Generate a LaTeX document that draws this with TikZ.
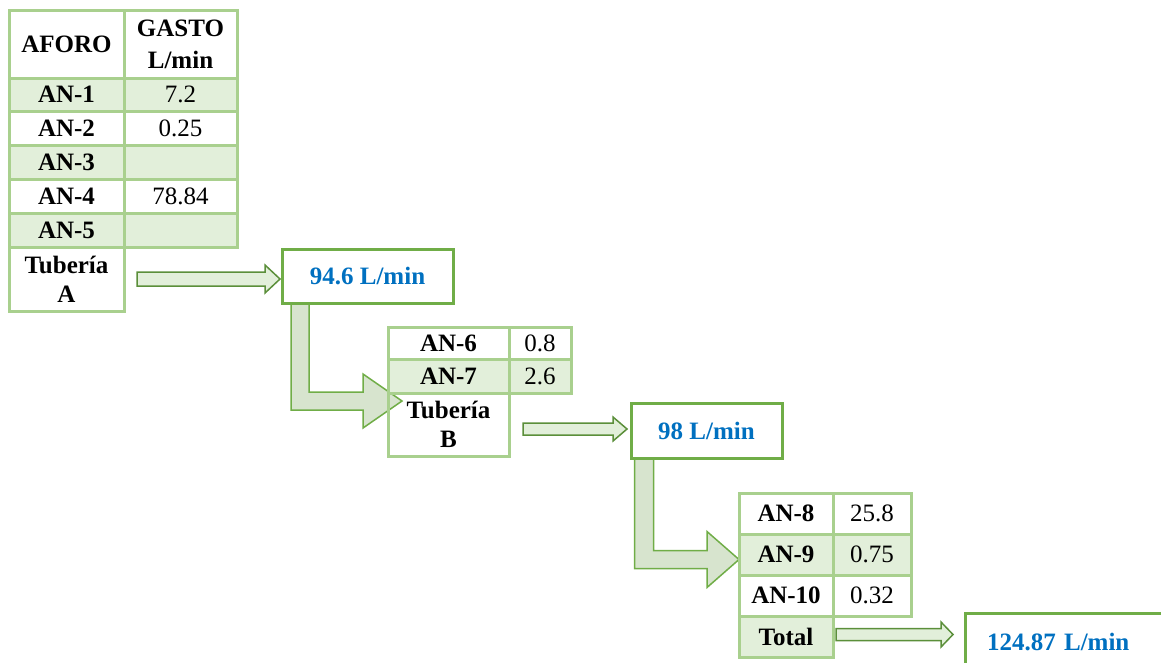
\documentclass[tikz,border=0pt]{standalone}
\usepackage{fontspec}
\setmainfont{Liberation Serif}
\usetikzlibrary{positioning,calc,backgrounds}

\definecolor{tblgreen}{HTML}{A9D08E}
\definecolor{rowgreen}{HTML}{E2EFDA}
\definecolor{boxgreen}{HTML}{70AD47}
\definecolor{darkgreen}{HTML}{5B8F3A}
\definecolor{bendfill}{HTML}{D7E4CE}
\definecolor{flowblue}{HTML}{0070C0}
\newcommand{\tabfont}{\fontsize{25}{29}\selectfont}

\begin{document}
\begin{tikzpicture}[x=1pt,y=-1pt]
			\tikzset{
				cell/.style={draw=tblgreen, line width=3pt, outer sep=0pt, inner sep=0pt,
						minimum height=34pt, font=\tabfont\bfseries},
				lbl/.style={cell, minimum width=115pt},
				val/.style={cell, minimum width=113pt, font=\tabfont},
				shd/.style={fill=rowgreen},
				resbox/.style={draw=boxgreen, line width=3pt, outer sep=0pt,
						font=\tabfont\bfseries, text=flowblue, anchor=north west},
				flow/.style={draw=darkgreen, fill=rowgreen, line width=1.5pt},
				elbow/.style={draw=boxgreen, fill=bendfill, line width=1.5pt},
			}
			\useasboundingbox (0,0) rectangle (1161,662);
			\clip (0,0) rectangle (1161,662);
			% first table
			\node[lbl, minimum height=68pt, anchor=north west] (a0) at (9,10) {AFORO};
			\node[val, minimum height=68pt, font=\tabfont\bfseries, align=center, right=0pt of a0] (g0) {GASTO\\[3pt]L/min};
			\node[lbl, shd, minimum height=33pt, below=0pt of a0] (a1) {AN-1};
			\node[val, shd, minimum height=33pt, right=0pt of a1] (g1) {7.2};
			\node[lbl, below=0pt of a1] (a2) {AN-2};
			\node[val, right=0pt of a2] (g2) {0.25};
			\node[lbl, shd, below=0pt of a2] (a3) {AN-3};
			\node[val, shd, right=0pt of a3] (g3) {};
			\node[lbl, below=0pt of a3] (a4) {AN-4};
			\node[val, right=0pt of a4] (g4) {78.84};
			\node[lbl, shd, below=0pt of a4] (a5) {AN-5};
			\node[val, shd, right=0pt of a5] (g5) {};
			\node[lbl, minimum height=64pt, align=center, below=0pt of a5] (a6) {Tubería\\A};
			\node[resbox, minimum width=171pt, minimum height=54pt] (qA) at (282,249) {94.6 L/min};
			%
			% second table
			\node[lbl, minimum width=121pt, minimum height=32pt, anchor=north west] (b0) at (388,327) {AN-6};
			\node[val, minimum width=62pt, minimum height=32pt, right=0pt of b0] (h0) {0.8};
			\node[lbl, shd, minimum width=121pt, below=0pt of b0] (b1) {AN-7};
			\node[val, shd, minimum width=62pt, right=0pt of b1] (h1) {2.6};
			\node[lbl, minimum width=121pt, minimum height=63pt, align=center, below=0pt of b1] (b2) {Tubería\\B};
			\node[resbox, minimum width=151pt, minimum height=55pt] (qB) at (631,403) {98 L/min};
			%
			% third table
			\node[lbl, minimum width=94pt, minimum height=41pt, anchor=north west] (c0) at (739,493) {AN-8};
			\node[val, minimum width=78pt, minimum height=41pt, right=0pt of c0] (k0) {25.8};
			\node[lbl, shd, minimum width=94pt, minimum height=41pt, below=0pt of c0] (c1) {AN-9};
			\node[val, shd, minimum width=78pt, minimum height=41pt, right=0pt of c1] (k1) {0.75};
			\node[lbl, minimum width=94pt, minimum height=41pt, below=0pt of c1] (c2) {AN-10};
			\node[val, minimum width=78pt, minimum height=41pt, right=0pt of c2] (k2) {0.32};
			\node[lbl, shd, minimum width=94pt, minimum height=41pt, below=0pt of c2] (c3) {Total};
			\node[resbox, text width=250pt, align=left, inner xsep=22pt, minimum height=58pt] (qC) at (965,613) {124.87 L/min};
			%
			\coordinate (u1) at ($(a6.east)+(13,0)$);
			\coordinate (v1) at ($(u1 -| qA.west)+(-2,0)$);
			\coordinate (u2) at ($(b2.east)+(14,4.5)$);
			\coordinate (v2) at ($(u2 -| qB.west)+(-4,0)$);
			\coordinate (u3) at ($(c3.east)+(3,-2)$);
			\coordinate (v3) at ($(u3 -| qC.west)+(-12,0)$);
			\coordinate (s1) at ($(qA.south west)+(9,0)$);
			\coordinate (t1) at ($(b2.north west)+(14,8)$);
			\coordinate (s2) at ($(qB.south west)+(3.5,0)$);
			\coordinate (t2) at ($(c1.west)+(0,5)$);
			\begin{scope}[on background layer]
				\draw[flow] let \p1=(u1), \p2=(v1) in
					(\x1,\y1+7pt) -- (\x2-15pt,\y1+7pt) -- (\x2-15pt,\y1+14pt) -- (\x2,\y1)
					-- (\x2-15pt,\y1-14pt) -- (\x2-15pt,\y1-7pt) -- (\x1,\y1-7pt) -- cycle;
				\draw[flow] let \p1=(u2), \p2=(v2) in
					(\x1,\y1+6pt) -- (\x2-14pt,\y1+6pt) -- (\x2-14pt,\y1+12pt) -- (\x2,\y1)
					-- (\x2-14pt,\y1-12pt) -- (\x2-14pt,\y1-6pt) -- (\x1,\y1-6pt) -- cycle;
				\draw[flow] let \p1=(u3), \p2=(v3) in
					(\x1,\y1+6pt) -- (\x2-12pt,\y1+6pt) -- (\x2-12pt,\y1+12.5pt) -- (\x2,\y1)
					-- (\x2-12pt,\y1-12.5pt) -- (\x2-12pt,\y1-6pt) -- (\x1,\y1-6pt) -- cycle;
				% bent arrows
				\draw[elbow] let \p1=(s1), \p2=(t1) in
					(\x1,\y1) -- (\x1+18pt,\y1) -- (\x1+18pt,\y2+9pt) -- (\x2-39pt,\y2+9pt)
					-- (\x2-39pt,\y2+27pt) -- (\x2,\y2) -- (\x2-39pt,\y2-27pt)
					-- (\x2-39pt,\y2-9pt) -- (\x1,\y2-9pt) -- cycle;
				\draw[elbow] let \p1=(s2), \p2=(t2) in
					(\x1,\y1) -- (\x1+19pt,\y1) -- (\x1+19pt,\y2+9pt) -- (\x2-32pt,\y2+9pt)
					-- (\x2-32pt,\y2+28pt) -- (\x2,\y2) -- (\x2-32pt,\y2-28pt)
					-- (\x2-32pt,\y2-9pt) -- (\x1,\y2-9pt) -- cycle;
			\end{scope}
		\end{tikzpicture}
\end{document}
